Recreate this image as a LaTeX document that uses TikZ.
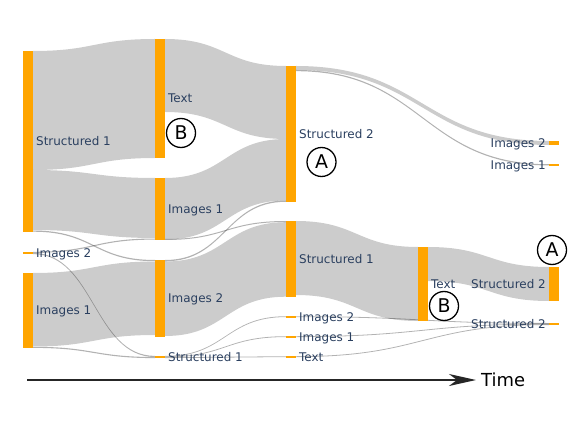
\documentclass[tikz,border=0pt]{standalone}
\usepackage{fontspec}
\setmainfont{DejaVu Sans}
\usepackage{tikz}
\usetikzlibrary{arrows.meta,positioning,calc}
\definecolor{nodeorange}{RGB}{255,165,0}
\definecolor{lblcolor}{RGB}{42,63,95}
\tikzset{
  blk/.style={minimum width=10bp, inner sep=0pt, outer sep=0pt},
  lbl/.style={text=lblcolor, inner sep=0pt, font=\fontsize{12}{14}\selectfont,
    text height=8.75pt, text depth=0pt},
  flowfill/.style={fill=black, fill opacity=0.2},
  thinflow/.style={fill=black, fill opacity=0.3},
  tagc/.style={circle, draw, line width=1.3bp, minimum size=29bp, inner sep=0pt,
    font=\fontsize{19}{20}\selectfont, text height=13.8pt, text depth=0pt},
  timelbl/.style={inner sep=0pt, font=\fontsize{18}{20}\selectfont,
    text height=13.1pt, text depth=0pt},
  axisln/.style={-{Stealth[length=27bp,width=12bp,inset=8bp]}, line width=2bp, black!85},
}
% ribbon from one node to another: [style]{from}{offset}{to}{offset}{width}
\newcommand{\flow}[6][flowfill]{%
  \fill[#1] let \p1=($(#2.north east)+(0,#3)$), \p2=($(#4.north west)+(0,#5)$),
    \p3=($(#2.north east)+(0,#3+#6)$), \p4=($(#4.north west)+(0,#5+#6)$) in
    (\p1) .. controls ({0.5*\x1+0.5*\x2},\y1) and ({0.5*\x1+0.5*\x2},\y2) .. (\p2)
    -- (\p4) .. controls ({0.5*\x1+0.5*\x2},\y4) and ({0.5*\x1+0.5*\x2},\y3) .. (\p3)
    -- cycle;
}

\begin{document}
\begin{tikzpicture}[x=1bp, y=-1bp]
  \useasboundingbox (0,0) rectangle (568,437);
  % Nodes, column by column
  \node[blk, minimum height=181bp] (s1a) at (28,141.5) {};
  \node[blk, minimum height=2.4bp] (i2a) at (28,253) {};
  \node[blk, minimum height=75bp] (i1a) at (28,310.5) {};
  \node[blk, minimum height=119bp] (txb) at (160,98.5) {};
  \node[blk, minimum height=62bp] (i1b) at (160,209) {};
  \node[blk, minimum height=77bp] (i2b) at (160,298.5) {};
  \node[blk, minimum height=2.2bp] (s1b) at (160,357) {};
  \node[blk, minimum height=136bp] (s2c) at (291,134) {};
  \node[blk, minimum height=76bp] (s1c) at (291,259) {};
  \node[blk, minimum height=1.5bp] (i2c) at (291,317) {};
  \node[blk, minimum height=1.5bp] (i1c) at (291,337) {};
  \node[blk, minimum height=1.5bp] (txc) at (291,357) {};
  \node[blk, minimum height=74bp] (txd) at (423,284) {};
  \node[blk, minimum height=4bp] (i2e) at (554,143) {};
  \node[blk, minimum height=1.5bp] (i1e) at (554,165) {};
  \node[blk, minimum height=34bp] (s2e) at (554,284) {};
  \node[blk, minimum height=2bp] (s2f) at (554,324) {};
  % Flows
  \flow{s1a}{0}{txb}{0}{119}
  \flow{s1a}{119}{i1b}{0}{60}
  \flow[thinflow]{s1a}{179.5}{i2b}{0}{1.2}
  \flow[thinflow]{i2a}{0}{i1b}{60.5}{1.1}
  \flow[thinflow]{i2a}{1.2}{s1b}{0}{1.1}
  \flow{i1a}{0}{i2b}{1.5}{73.5}
  \flow[thinflow]{i1a}{73.8}{s1b}{1.1}{1.1}
  \flow{txb}{0}{s2c}{0}{73}
  \flow{i1b}{0}{s2c}{73}{61.5}
  \flow[thinflow]{i1b}{61}{s1c}{0}{1}
  \flow[thinflow]{i2b}{0}{s2c}{134.5}{1.3}
  \flow{i2b}{1.5}{s1c}{1.2}{74.5}
  \flow[thinflow]{s1b}{0}{i2c}{0}{0.8}
  \flow[thinflow]{s1b}{0.7}{i1c}{0}{0.8}
  \flow[thinflow]{s1b}{1.4}{txc}{0}{0.8}
  \flow{s2c}{0}{i2e}{0}{4}
  \flow[thinflow]{s2c}{4}{i1e}{0}{1.2}
  \flow{s1c}{0}{txd}{0}{74}
  \flow[thinflow]{i2c}{0}{s2f}{0}{0.8}
  \flow[thinflow]{i1c}{0}{s2f}{0.6}{0.8}
  \flow[thinflow]{txc}{0}{s2f}{1.2}{0.8}
  \flow{txd}{0}{s2e}{0}{34}
  % Bars on top of the flows
  \foreach \n in {s1a,i2a,i1a,txb,i1b,i2b,s1b,s2c,s1c,i2c,i1c,txc,txd,i2e,i1e,s2e,s2f}
    \fill[nodeorange] (\n.north west) rectangle (\n.south east);
  % Labels
  \node[lbl, right=3bp of s1a] (s1al) {Structured 1};
  \node[lbl, right=3bp of i2a] (i2al) {Images 2};
  \node[lbl, right=3bp of i1a] (i1al) {Images 1};
  \node[lbl, right=3bp of txb] (txbl) {Text};
  \node[lbl, right=3bp of i1b] (i1bl) {Images 1};
  \node[lbl, right=3bp of i2b] (i2bl) {Images 2};
  \node[lbl, right=3bp of s1b] (s1bl) {Structured 1};
  \node[lbl, right=3bp of s2c] (s2cl) {Structured 2};
  \node[lbl, right=3bp of s1c] (s1cl) {Structured 1};
  \node[lbl, right=3bp of i2c] (i2cl) {Images 2};
  \node[lbl, right=3bp of i1c] (i1cl) {Images 1};
  \node[lbl, right=3bp of txc] (txcl) {Text};
  \node[lbl, right=3bp of txd] (txdl) {Text};
  \node[lbl, left=3bp of i2e] (i2el) {Images 2};
  \node[lbl, left=3bp of i1e] (i1el) {Images 1};
  \node[lbl, left=3bp of s2e] (s2el) {Structured 2};
  \node[lbl, left=3bp of s2f] (s2fl) {Structured 2};
  % Circled marks
  \node[tagc] (bb) at (181,133) {B};
  \node[tagc] (ac) at (321.5,162) {A};
  \node[tagc] (bd) at (444,306) {B};
  \node[tagc] (ae) at (552,250) {A};
  % Time axis
  \coordinate (t0) at (27,380);
  \coordinate (t1) at (476,380);
  \draw[axisln] (t0) -- (t1);
  \node[timelbl, right=5bp of t1] (tm) {Time};
\end{tikzpicture}
\end{document}
